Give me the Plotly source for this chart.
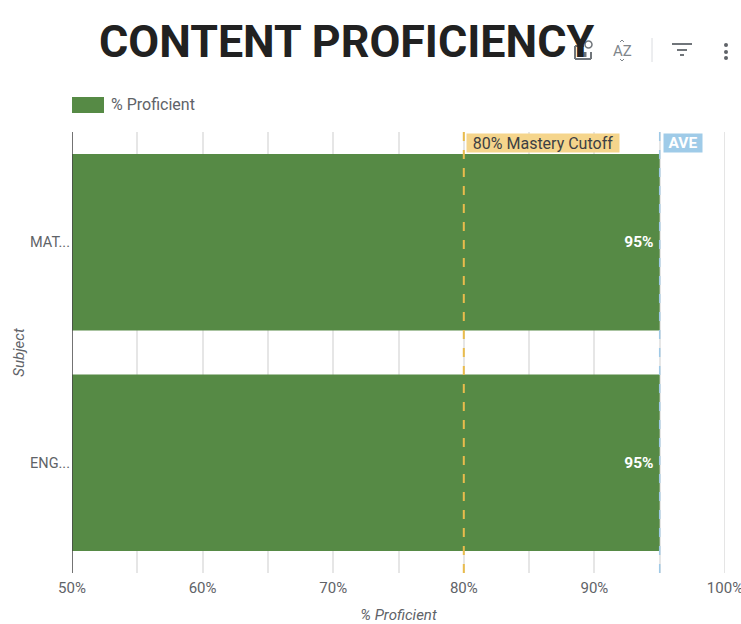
import plotly.graph_objects as go

subjects = ["MATH", "ENGLISH"]
subject_labels = ["MAT...", "ENG..."]
proficient = [95, 95]
bar_labels = ["95%", "95%"]
mastery_cutoff = 80
average = 95
axis_start = 50
axis_end = 100
x_ticks = [50, 60, 70, 80, 90, 100]
x_tick_labels = ["50%", "60%", "70%", "80%", "90%", "100%"]
x_minor_ticks = [55, 65, 75, 85, 95]

GREEN = "#568a45"
GREY = "#5f6368"
FONT = "Roboto, Arial, sans-serif"

L, T, PW, PH = 72, 132, 653, 441
def px(X):
    return (X - L) / PW
def py(Y):
    return (T + PH - Y) / PH

fig = go.Figure()
fig.add_trace(go.Bar(
    y=subjects, x=proficient, orientation="h", name="% Proficient",
    marker=dict(color=GREEN, line=dict(width=0)),
    text=bar_labels, texttemplate="%{text}\u2009", textposition="inside", insidetextanchor="end",
    textfont=dict(color="white", size=15.5, family=FONT, weight="bold"),
    textangle=0, constraintext="none", hoverinfo="skip",
    width=0.8,
))

fig.add_shape(type="line", x0=axis_start, x1=axis_start, yref="paper", y0=0, y1=1,
              line=dict(color="#444444", width=1.5), layer="above")
fig.add_shape(type="line", x0=axis_end, x1=axis_end, yref="paper", y0=0, y1=1,
              line=dict(color="#dcdcdc", width=1.5), layer="below")
fig.add_shape(type="line", x0=mastery_cutoff, x1=mastery_cutoff, yref="paper", y0=0, y1=1,
              line=dict(color="#e9bc4c", width=2, dash="dash"), layer="above")
fig.add_shape(type="line", x0=average, x1=average, yref="paper", y0=0, y1=1,
              line=dict(color="#9fc9e6", width=1.5, dash="dash"), layer="above")

fig.add_annotation(x=mastery_cutoff, yref="paper", y=1, xanchor="left", yanchor="top",
                   text="80% Mastery Cutoff", showarrow=False, xshift=2, yshift=-1,
                   bgcolor="#f5d58c", font=dict(family=FONT, size=16, color="#3c4043"),
                   width=152, height=18, borderpad=0, align="center")
fig.add_annotation(x=average, yref="paper", y=1, xanchor="left", yanchor="top",
                   text="<b>AVE</b>", showarrow=False, xshift=3, yshift=-1,
                   bgcolor="#9fcbe8", font=dict(family=FONT, size=15.5, color="white"),
                   width=38, height=18, borderpad=0, align="center")

# Legend swatch and label
fig.add_shape(type="rect", xref="paper", yref="paper", x0=px(72), x1=px(104), y0=py(113), y1=py(97),
              fillcolor=GREEN, line=dict(width=0))
fig.add_annotation(xref="paper", yref="paper", x=px(109), y=py(105), xanchor="left", yanchor="middle",
                   text="% Proficient", showarrow=False, font=dict(family=FONT, size=16, color=GREY))

# Page title and toolbar glyphs
fig.add_annotation(xref="paper", yref="paper", x=px(346), y=py(41), xanchor="center", yanchor="middle",
                   text="<b>CONTENT PROFICIENCY</b>", showarrow=False,
                   font=dict(family=FONT, size=44.8, color="#212121"))
fig.add_annotation(xref="paper", yref="paper", x=px(622), y=py(51), xanchor="center", yanchor="middle",
                   text="AZ", showarrow=False, font=dict(family=FONT, size=15, color="#80868b"))

def tool_line(x0, y0, x1, y1, color="#70757a", width=2):
    fig.add_shape(type="line", xref="paper", yref="paper", x0=px(x0), x1=px(x1), y0=py(y0), y1=py(y1),
                  line=dict(color=color, width=width))

tool_line(575, 46, 575, 59)
tool_line(575, 59, 591, 59)
tool_line(591, 59, 591, 52)
tool_line(575, 46, 584, 46)
tool_line(580, 49, 580, 57, width=4)
tool_line(585, 52, 585, 57, width=3)
fig.add_shape(type="circle", xref="paper", yref="paper", x0=px(585), x1=px(592), y0=py(48), y1=py(41),
              line=dict(color="#70757a", width=1.5))
tool_line(620, 42, 622, 40, color="#80868b", width=1)
tool_line(622, 40, 624, 42, color="#80868b", width=1)
tool_line(620, 59, 622, 61, color="#80868b", width=1)
tool_line(622, 61, 624, 59, color="#80868b", width=1)
tool_line(652, 38, 652, 62, color="#dadce0", width=1)
tool_line(672, 44, 692, 44)
tool_line(677, 50, 687, 50)
tool_line(680, 55, 684, 55)
for dot_y in (45, 52, 58):
    fig.add_shape(type="circle", xref="paper", yref="paper", x0=px(724), x1=px(728),
                  y0=py(dot_y + 2), y1=py(dot_y - 2), fillcolor="#5f6368", line=dict(width=0))

fig.update_layout(
    width=741, height=624, autosize=False,
    margin=dict(l=72, r=16, t=132, b=51, autoexpand=False),
    paper_bgcolor="white", plot_bgcolor="white",
    font=dict(family=FONT, size=16, color=GREY),
    showlegend=False,
    xaxis=dict(range=[50, 100], tickvals=x_ticks, ticktext=x_tick_labels,
               showgrid=True, gridcolor="#e6e6e6", gridwidth=1.5,
               minor=dict(showgrid=True, gridcolor="#e6e6e6", gridwidth=1.5, tickvals=x_minor_ticks),
               zeroline=False, showline=False, ticks="", tickfont=dict(size=15, color=GREY),
               ticklabelstandoff=4, ticklabeloverflow="allow",
               title=dict(text="<i>% Proficient</i>", font=dict(size=15, color=GREY), standoff=14)),
    yaxis=dict(categoryorder="array", categoryarray=subjects[::-1],
               tickvals=subjects, ticktext=subject_labels,
               showgrid=False, showline=False,
               ticks="", tickfont=dict(size=14.5, color=GREY), ticklabelstandoff=1,
               title=dict(text="<i>Subject</i>", font=dict(size=15, color=GREY), standoff=1)),
)
fig.write_html("out.html", config={"displayModeBar": False},
               post_script="document.documentElement.style.overflow='hidden';document.body.style.overflow='hidden';document.body.style.margin='0';")
